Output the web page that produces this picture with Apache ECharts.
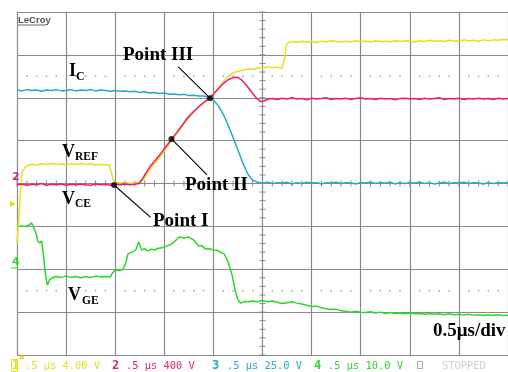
<!DOCTYPE html>
<html><head><meta charset="utf-8">
<script src="https://cdn.jsdelivr.net/npm/echarts@6/dist/echarts.min.js"></script>
<style>html,body{margin:0;padding:0;background:#fff}#c{width:508px;height:372px}</style>
</head><body><div id="c"></div>
<script>
// time in microseconds (0.5 us/div), values in screen divisions
const icTrace = [
[0.00,2.18],[0.05,2.16],[0.10,2.19],[0.15,2.17],[0.20,2.18],[0.25,2.15],[0.30,2.18],[0.35,2.17],[0.40,2.19],[0.45,2.16],[0.50,2.17],[0.55,2.19],[0.60,2.16],[0.65,2.18],[0.70,2.17],[0.75,2.19],[0.80,2.16],[0.85,2.18],[0.90,2.17],[0.95,2.15],[1.00,2.17],[1.05,2.15],[1.10,2.16],[1.15,2.14],[1.20,2.15],[1.25,2.12],[1.30,2.14],[1.35,2.11],[1.40,2.12],[1.45,2.10],[1.50,2.11],[1.55,2.08],[1.60,2.09],[1.65,2.07],[1.70,2.08],[1.75,2.05],[1.80,2.06],[1.85,2.04],[1.90,2.04],[1.95,2.02],[2.00,1.95],[2.05,1.81],[2.10,1.62],[2.15,1.36],[2.20,1.08],[2.25,0.78],[2.30,0.48],[2.35,0.22],[2.40,0.08],[2.45,0.03],[2.50,0.01],[2.55,0.03],[2.60,0.00],[2.65,0.02],[2.70,0.01],[2.75,0.03],[2.80,-0.01],[2.85,0.02],[2.90,0.00],[2.95,0.03],[3.00,0.01],[3.05,0.02],[3.10,-0.01],[3.15,0.02],[3.20,0.01],[3.25,0.03],[3.30,0.00],[3.35,0.02],[3.40,0.01],[3.45,-0.01],[3.50,0.02],[3.55,0.01],[3.60,0.03],[3.65,0.00],[3.70,0.02],[3.75,0.01],[3.80,0.03],[3.85,-0.01],[3.90,0.02],[3.95,0.00],[4.00,0.02],[4.05,0.01],[4.10,0.03],[4.15,0.00],[4.20,0.02],[4.25,-0.01],[4.30,0.01],[4.35,0.03],[4.40,0.00],[4.45,0.02],[4.50,0.01],[4.55,0.03],[4.60,0.00],[4.65,0.02],[4.70,0.01],[4.75,-0.01],[4.80,0.02],[4.85,0.00],[4.90,0.02],[4.95,0.01],[5.00,0.02]
];
const vceTrace = [
[0.00,-0.03],[0.05,-0.01],[0.10,-0.04],[0.15,-0.02],[0.20,-0.03],[0.25,0.00],[0.30,-0.04],[0.35,-0.02],[0.40,-0.03],[0.45,-0.01],[0.50,-0.04],[0.55,-0.02],[0.60,-0.03],[0.65,-0.01],[0.70,-0.03],[0.75,-0.04],[0.80,-0.01],[0.85,-0.03],[0.90,-0.02],[0.95,-0.04],[1.00,-0.02],[1.05,-0.03],[1.10,-0.01],[1.15,-0.03],[1.20,-0.02],
[1.24,0.00],[1.28,0.12],[1.32,0.27],[1.36,0.41],[1.40,0.52],[1.44,0.63],[1.48,0.75],[1.52,0.87],[1.57,1.02],[1.62,1.17],[1.66,1.29],[1.71,1.45],[1.76,1.59],[1.80,1.68],[1.85,1.79],[1.90,1.89],[1.95,1.98],[2.00,2.08],[2.05,2.21],[2.10,2.33],[2.15,2.42],[2.20,2.47],[2.24,2.48],[2.28,2.43],[2.32,2.34],[2.36,2.22],[2.40,2.10],[2.44,1.99],[2.48,1.91],[2.52,1.93],[2.56,1.97],
[2.60,1.98],[2.65,1.96],[2.70,1.99],[2.75,1.97],[2.80,2.00],[2.85,1.97],[2.90,1.98],[2.95,1.95],[3.00,1.99],[3.05,1.97],[3.10,1.98],[3.15,2.00],[3.20,1.96],[3.25,1.98],[3.30,1.97],[3.35,1.99],[3.40,1.96],[3.45,1.98],[3.50,2.00],[3.55,1.97],[3.60,1.98],[3.65,1.96],[3.70,1.99],[3.75,1.97],[3.80,1.98],[3.85,1.95],[3.90,1.98],[3.95,1.99],[4.00,1.97],[4.05,1.98],[4.10,1.96],[4.15,1.99],[4.20,1.97],[4.25,1.98],[4.30,2.00],[4.35,1.96],[4.40,1.98],[4.45,1.97],[4.50,1.99],[4.55,1.96],[4.60,1.98],[4.65,1.97],[4.70,1.99],[4.75,1.97],[4.80,1.98],[4.85,1.96],[4.90,1.99],[4.95,1.97],[5.00,1.98]
];
const vrefTrace = [
[0.00,-1.41],[0.02,-1.41],[0.03,-0.40],[0.05,0.25],[0.08,0.37],[0.12,0.43],[0.15,0.45],[0.20,0.43],[0.25,0.46],[0.30,0.44],[0.35,0.47],[0.40,0.44],[0.45,0.46],[0.50,0.43],[0.55,0.46],[0.60,0.44],[0.65,0.47],[0.70,0.44],[0.75,0.46],[0.80,0.43],[0.85,0.45],[0.90,0.44],[0.94,0.43],[0.96,0.27],[0.98,0.08],[1.00,0.03],[1.05,0.01],[1.10,0.03],[1.15,0.00],[1.20,0.02],[1.24,0.02],[1.27,0.04],[1.30,0.14],[1.34,0.28],[1.38,0.41],[1.42,0.52],[1.46,0.64],[1.50,0.76],[1.54,0.89],[1.58,1.02],[1.62,1.15],[1.66,1.27],[1.71,1.42],[1.76,1.56],[1.80,1.66],[1.85,1.78],[1.90,1.88],[1.95,1.98],[2.00,2.09],[2.05,2.22],[2.10,2.37],[2.15,2.50],[2.20,2.58],[2.25,2.62],[2.30,2.64],[2.35,2.67],[2.40,2.66],[2.45,2.70],[2.50,2.69],[2.55,2.72],[2.60,2.70],[2.65,2.71],[2.70,2.69],[2.72,2.70],[2.73,2.95],[2.74,3.22],[2.76,3.28],
[2.80,3.31],[2.85,3.29],[2.90,3.32],[2.95,3.30],[3.00,3.31],[3.05,3.29],[3.10,3.32],[3.15,3.30],[3.20,3.33],[3.25,3.31],[3.30,3.30],[3.35,3.32],[3.40,3.30],[3.45,3.33],[3.50,3.31],[3.55,3.32],[3.60,3.30],[3.65,3.33],[3.70,3.31],[3.75,3.32],[3.80,3.30],[3.85,3.33],[3.90,3.31],[3.95,3.33],[4.00,3.32],[4.05,3.30],[4.10,3.33],[4.15,3.31],[4.20,3.34],[4.25,3.32],[4.30,3.33],[4.35,3.31],[4.40,3.34],[4.45,3.32],[4.50,3.33],[4.55,3.35],[4.60,3.33],[4.65,3.34],[4.70,3.32],[4.75,3.35],[4.80,3.33],[4.85,3.35],[4.90,3.34],[4.95,3.36],[5.00,3.35]
];
const vgeTrace = [
[0.00,-1.01],[0.04,-0.99],[0.08,-1.00],[0.12,-0.97],[0.15,-0.92],[0.17,-0.90],[0.19,-1.13],[0.21,-1.34],[0.23,-1.39],[0.25,-1.34],[0.27,-1.67],[0.29,-2.13],[0.31,-2.37],[0.33,-2.25],
[0.36,-2.20],[0.40,-2.17],[0.45,-2.19],[0.50,-2.16],[0.55,-2.19],[0.60,-2.17],[0.65,-2.20],[0.70,-2.17],[0.75,-2.19],[0.80,-2.16],[0.85,-2.18],[0.90,-2.17],[0.95,-2.18],
[0.97,-2.09],[1.00,-2.02],[1.04,-2.03],[1.08,-2.00],[1.11,-1.83],[1.13,-1.64],[1.17,-1.60],[1.21,-1.55],[1.24,-1.36],[1.27,-1.55],[1.30,-1.52],[1.33,-1.57],[1.37,-1.53],[1.40,-1.55],[1.44,-1.51],[1.48,-1.50],[1.52,-1.46],[1.56,-1.43],[1.59,-1.38],[1.62,-1.32],[1.65,-1.25],[1.70,-1.27],[1.75,-1.25],[1.80,-1.32],[1.85,-1.46],[1.88,-1.45],[1.92,-1.53],[1.96,-1.52],[2.00,-1.55],[2.04,-1.56],[2.07,-1.60],[2.11,-1.64],[2.15,-1.83],[2.19,-2.13],[2.22,-2.48],[2.25,-2.72],[2.28,-2.79],[2.31,-2.75],
[2.35,-2.76],[2.40,-2.74],[2.45,-2.76],[2.50,-2.73],[2.55,-2.76],[2.60,-2.74],[2.65,-2.77],[2.70,-2.80],[2.75,-2.78],[2.80,-2.76],[2.85,-2.79],[2.90,-2.81],[2.95,-2.84],[3.00,-2.87],[3.05,-2.86],[3.10,-2.90],[3.15,-2.92],[3.20,-2.94],[3.25,-2.93],[3.30,-2.97],[3.35,-2.98],[3.40,-3.00],[3.45,-2.98],[3.50,-3.00],[3.55,-3.01],[3.60,-2.99],[3.65,-3.02],[3.70,-3.00],[3.75,-3.03],[3.80,-3.01],[3.85,-3.03],[3.90,-3.02],[3.95,-3.04],[4.00,-3.02],[4.05,-3.04],[4.10,-3.03],[4.15,-3.05],[4.20,-3.03],[4.25,-3.05],[4.30,-3.04],[4.35,-3.06],[4.40,-3.04],[4.45,-3.06],[4.50,-3.05],[4.55,-3.07],[4.60,-3.05],[4.65,-3.07],[4.70,-3.06],[4.75,-3.08],[4.80,-3.06],[4.85,-3.08],[4.90,-3.06],[4.95,-3.08],[5.00,-3.07]
];
// annotated points: [t, div] of dot, and the far end of its leader line
const pointNames = ['Point I','Point II','Point III'];
const pointDots = [[0.988,-0.035],[1.573,1.04],[1.966,1.99]];
const leaderEnds = [[1.361,-0.79],[1.935,0.20],[1.643,2.72]];
const channelInfo = ['.5 \u03bcs 4.00 V','.5 \u03bcs 400 V','.5 \u03bcs 25.0 V','.5 \u03bcs 10.0 V'];

const C1='#e2e21a', C2='#ec1c74', C3='#26a9c2', C4='#2ad82a';
const GRID='#8a8a8a';
const chart = echarts.init(document.getElementById('c'));

const graticule = {
  type:'custom', silent:true, z:1, data:[[0,0]],
  renderItem:function(params, api){
    const ch=[];
    for(let k=0;k<=50;k++){const p=api.coord([k*0.1,0]);ch.push({type:'line',shape:{x1:p[0],y1:p[1]-3,x2:p[0],y2:p[1]+3},style:{stroke:GRID,lineWidth:1}});}
    for(let k=0;k<=40;k++){const p=api.coord([2.5,-4+k*0.2]);ch.push({type:'line',shape:{x1:p[0]-3,y1:p[1],x2:p[0]+3,y2:p[1]},style:{stroke:GRID,lineWidth:1}});}
    [2.5,-2.5].forEach(function(v){for(let k=0;k<50;k++){if(k%5===0)continue;const p=api.coord([k*0.1,v]);ch.push({type:'rect',shape:{x:p[0]-0.7,y:p[1]-0.7,width:1.4,height:1.4},style:{fill:'#9a9a9a'}});}});
    return {type:'group',children:ch};
  }
};
function trace(data,color,z){return {type:'line',data:data,showSymbol:false,symbol:'none',z:z,lineStyle:{color:color,width:1.5},silent:true};}
const series=[graticule, trace(vgeTrace,C4,3), trace(icTrace,C3,3), trace(vrefTrace,C1,4), trace(vceTrace,C2,5)];
for(let i=0;i<3;i++){
  series.push({type:'line',data:[pointDots[i],leaderEnds[i]],showSymbol:false,symbol:'none',z:8,lineStyle:{color:'#000',width:1.1},silent:true});
}
series.push({type:'scatter',data:pointDots,symbolSize:6,itemStyle:{color:'#000'},z:9,silent:true});

function T(text,x,y,size,opts){return Object.assign({type:'text',x:x,y:y,z:20,style:{text:text,fontFamily:'"Liberation Serif"',fontWeight:'bold',fontSize:size,fill:'#000',verticalAlign:'middle',align:'left'}},opts||{});}
function M(text,x,color,size,bold){return {type:'text',x:x,y:366,z:20,style:{text:text,fontFamily:'"DejaVu Sans Mono"',fontSize:size||10.4,fontWeight:bold?'bold':'normal',fill:color,verticalAlign:'middle',align:'left'}};}
const graphic=[
  {type:'text',x:18,y:20,z:20,style:{text:'LeCroy',fontFamily:'"Liberation Sans"',fontWeight:'bold',fontSize:9.5,fill:'#555',verticalAlign:'middle'}},
  {type:'line',z:20,shape:{x1:18,y1:25,x2:46,y2:25},style:{stroke:'#666',lineWidth:1}},
  T('I',69,71.5,18), T('C',76,77,12),
  T('V',62,152.5,18), T('REF',75,157,11.5),
  T('V',62,199.5,18), T('CE',75,204,11.5),
  T('V',68,295,18), T('GE',82,301,11.5),
  T(pointNames[2],123,55.5,19), T(pointNames[1],185,185,19), T(pointNames[0],153,221.5,19),
  T('0.5\u03bcs/div',433,331.5,19),
  {type:'text',x:12,y:177,z:20,style:{text:'2',fontFamily:'"DejaVu Sans"',fontWeight:'bold',fontSize:11,fill:'#b8308c',verticalAlign:'middle'}},
  {type:'polygon',z:20,shape:{points:[[10,201],[16,204],[10,207]]},style:{fill:C1}},
  {type:'text',x:12,y:262,z:20,style:{text:'4',fontFamily:'"DejaVu Sans"',fontWeight:'bold',fontSize:11,fill:C4,verticalAlign:'middle'}},
  {type:'line',z:20,shape:{x1:11,y1:268,x2:18,y2:268},style:{stroke:C4,lineWidth:1}},
  {type:'polygon',z:20,shape:{points:[[19,359],[22,355],[25,359]]},style:{fill:C1}},
  {type:'rect',z:20,shape:{x:11.5,y:359.5,width:6,height:12},style:{fill:'none',stroke:C1,lineWidth:1}},
  M('1',12,C1,12,true), M(channelInfo[0],25,C1),
  M('2',112,C2,12,true), M(channelInfo[1],126,C2),
  M('3',212,C3,12,true), M(channelInfo[2],227,C3),
  M('4',314,C4,12,true), M(channelInfo[3],328,C4),
  {type:'rect',z:20,shape:{x:417.5,y:361.5,width:5,height:7},style:{fill:'none',stroke:'#aaa',lineWidth:1}},
  M('STOPPED',442,'#cfcfcf')
];

chart.setOption({
  animation:false,
  backgroundColor:'#fff',
  grid:{left:17,top:12,width:496,height:343,containLabel:false},
  xAxis:{type:'value',min:0,max:5,interval:0.5,axisLine:{show:false},axisTick:{show:false},axisLabel:{show:false},splitLine:{show:true,lineStyle:{color:GRID,width:1.2}}},
  yAxis:{type:'value',min:-4,max:4,interval:1,axisLine:{show:false},axisTick:{show:false},axisLabel:{show:false},splitLine:{show:true,lineStyle:{color:GRID,width:1.2}}},
  series:series,
  graphic:graphic
});
</script></body></html>
